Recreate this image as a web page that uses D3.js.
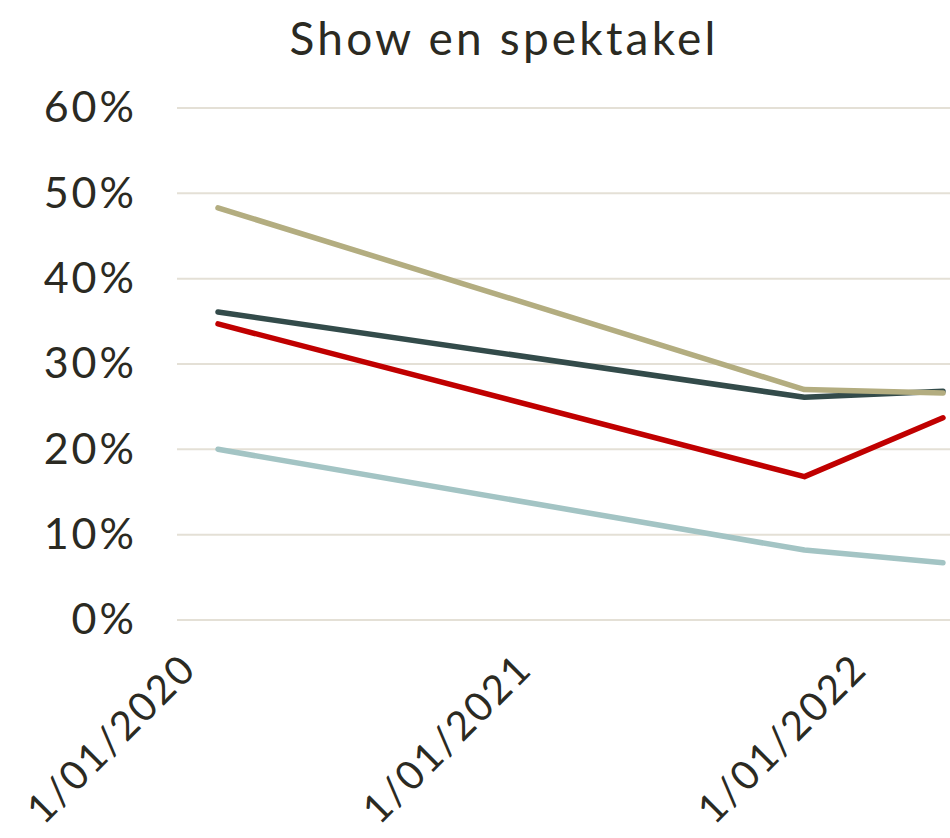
<!DOCTYPE html>
<html><head><meta charset="utf-8">
<script src="https://cdn.jsdelivr.net/npm/d3@7/dist/d3.min.js"></script>
<style>body{margin:0;background:#fff}svg{display:block}</style>
</head><body>
<script>
const title = "Show en spektakel";
const dates = ["2020-01-01", "2021-10-01", "2022-03-01"];
const seriesNames = ["Donker", "Khaki", "Rood", "Lichtblauw"];
const donker = [0.361, 0.261, 0.268];
const khaki = [0.483, 0.270, 0.266];
const rood = [0.347, 0.168, 0.237];
const lichtblauw = [0.200, 0.082, 0.067];
const colors = ["#334B4A", "#B3AD80", "#C00000", "#A3C4C4"];
const yTicks = [0, 0.1, 0.2, 0.3, 0.4, 0.5, 0.6];
const xTicks = ["2020-01-01", "2021-01-01", "2022-01-01"];

const W = 950, H = 838;
const font = "Lato, 'Noto Sans', sans-serif";
const textColor = "#2B2A22";
const parse = d3.utcParse("%Y-%m-%d");
const svg = d3.select("body").append("svg").attr("width", W).attr("height", H);

const x = d3.scaleUtc().domain([parse(dates[0]), parse(dates[2])]).range([218, 943]);
const y = d3.scaleLinear().domain([0, 0.6]).range([620, 108]);

svg.append("text").attr("x", 504).attr("y", 55).attr("text-anchor", "middle")
  .attr("font-family", font).attr("font-size", 46).attr("letter-spacing", 3.2)
  .attr("fill", textColor).text(title);

// grid
svg.append("g").selectAll("line").data(yTicks).join("line")
  .attr("x1", 177).attr("x2", 950).attr("y1", d => y(d)).attr("y2", d => y(d))
  .attr("stroke", "#E4E0D6").attr("stroke-width", 2);

// y labels
const yAxis = svg.append("g").attr("transform", "translate(177,0)")
  .call(d3.axisLeft(y).tickValues(yTicks).tickFormat(d3.format(".0%")).tickSize(0).tickPadding(40));
yAxis.select(".domain").remove();
yAxis.selectAll("text").attr("font-family", font).attr("font-size", 43).attr("letter-spacing", 3)
  .attr("fill", textColor);

// x labels
const xAxis = svg.append("g").attr("transform", "translate(0,640)")
  .call(d3.axisBottom(x).tickValues(xTicks.map(parse)).tickFormat(d3.utcFormat("%-d/%m/%Y")).tickSize(0));
xAxis.select(".domain").remove();
xAxis.selectAll("text").attr("font-family", font).attr("font-size", 40).attr("letter-spacing", 2.3)
  .attr("fill", textColor)
  .attr("text-anchor", "end").attr("dy", "0.7em").attr("dx", 0)
  .attr("transform", "translate(-42,9) rotate(-45)");

const all = [donker, khaki, rood, lichtblauw];
const line = d3.line().x((d, i) => x(parse(dates[i]))).y(d => y(d));
svg.append("g").selectAll("path").data(all).join("path")
  .attr("d", d => line(d)).attr("fill", "none")
  .attr("stroke", (d, i) => colors[i]).attr("stroke-width", 5.5)
  .attr("stroke-linecap", "round").attr("stroke-linejoin", "round");
</script>
</body></html>
